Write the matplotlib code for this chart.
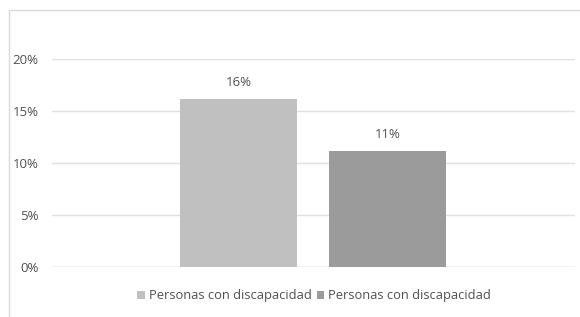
import matplotlib
matplotlib.use("Agg")
import matplotlib.pyplot as plt
from matplotlib.patches import Rectangle, Patch

series = ["Personas con discapacidad", "Personas con discapacidad"]
values = [16.2, 11.2]
labels = ["16%", "11%"]
colors = ["#c0c0c0", "#9b9b9b"]
yticks = [0, 5, 10, 15, 20]
ytick_labels = ["0%", "5%", "10%", "15%", "20%"]

plt.rcParams['font.family'] = ['Open Sans', 'DejaVu Sans']
txt = "#505050"

fig = plt.figure(figsize=(5.8, 3.17), dpi=100)
fig.patches.append(Rectangle((9/580, -0.1), 1.2, 1 - 10/317 + 0.1, transform=fig.transFigure,
                             fill=False, edgecolor="#d9d9d9", linewidth=1.0))
ax = fig.add_axes([52/580, 1 - 267/317, 523/580, 208/317])

pos = list(range(len(values)))
for i, (v, c, lab) in enumerate(zip(values, colors, labels)):
    ax.bar(pos[i], v, width=0.785, color=c, zorder=2, label=series[i])
    ax.text(pos[i], v + 0.9, lab, ha="center", va="bottom", fontsize=9.5, color=txt)

ax.set_xlim(-1.252, 2.258)
ax.set_ylim(0, 20)
ax.set_yticks(yticks)
ax.set_yticklabels(ytick_labels, fontsize=9.5, color=txt)
ax.set_xticks([])
ax.tick_params(axis="y", length=0, pad=9.5)
ax.grid(axis="y", color="#e0e0e0", linewidth=1, zorder=0)
for s in ax.spines.values():
    s.set_visible(False)
ax.axhline(0, color="#d9d9d9", linewidth=1, zorder=1)

handles = [Patch(facecolor=c) for c in colors]
fig.legend(handles, series, loc="center", bbox_to_anchor=(314/580, 1 - 296/317), ncol=2,
           frameon=False, fontsize=9.3, handlelength=0.6, handleheight=0.6,
           handletextpad=0.3, columnspacing=0.4, labelcolor=txt)

fig.savefig("out.png", dpi=100, facecolor="white")
